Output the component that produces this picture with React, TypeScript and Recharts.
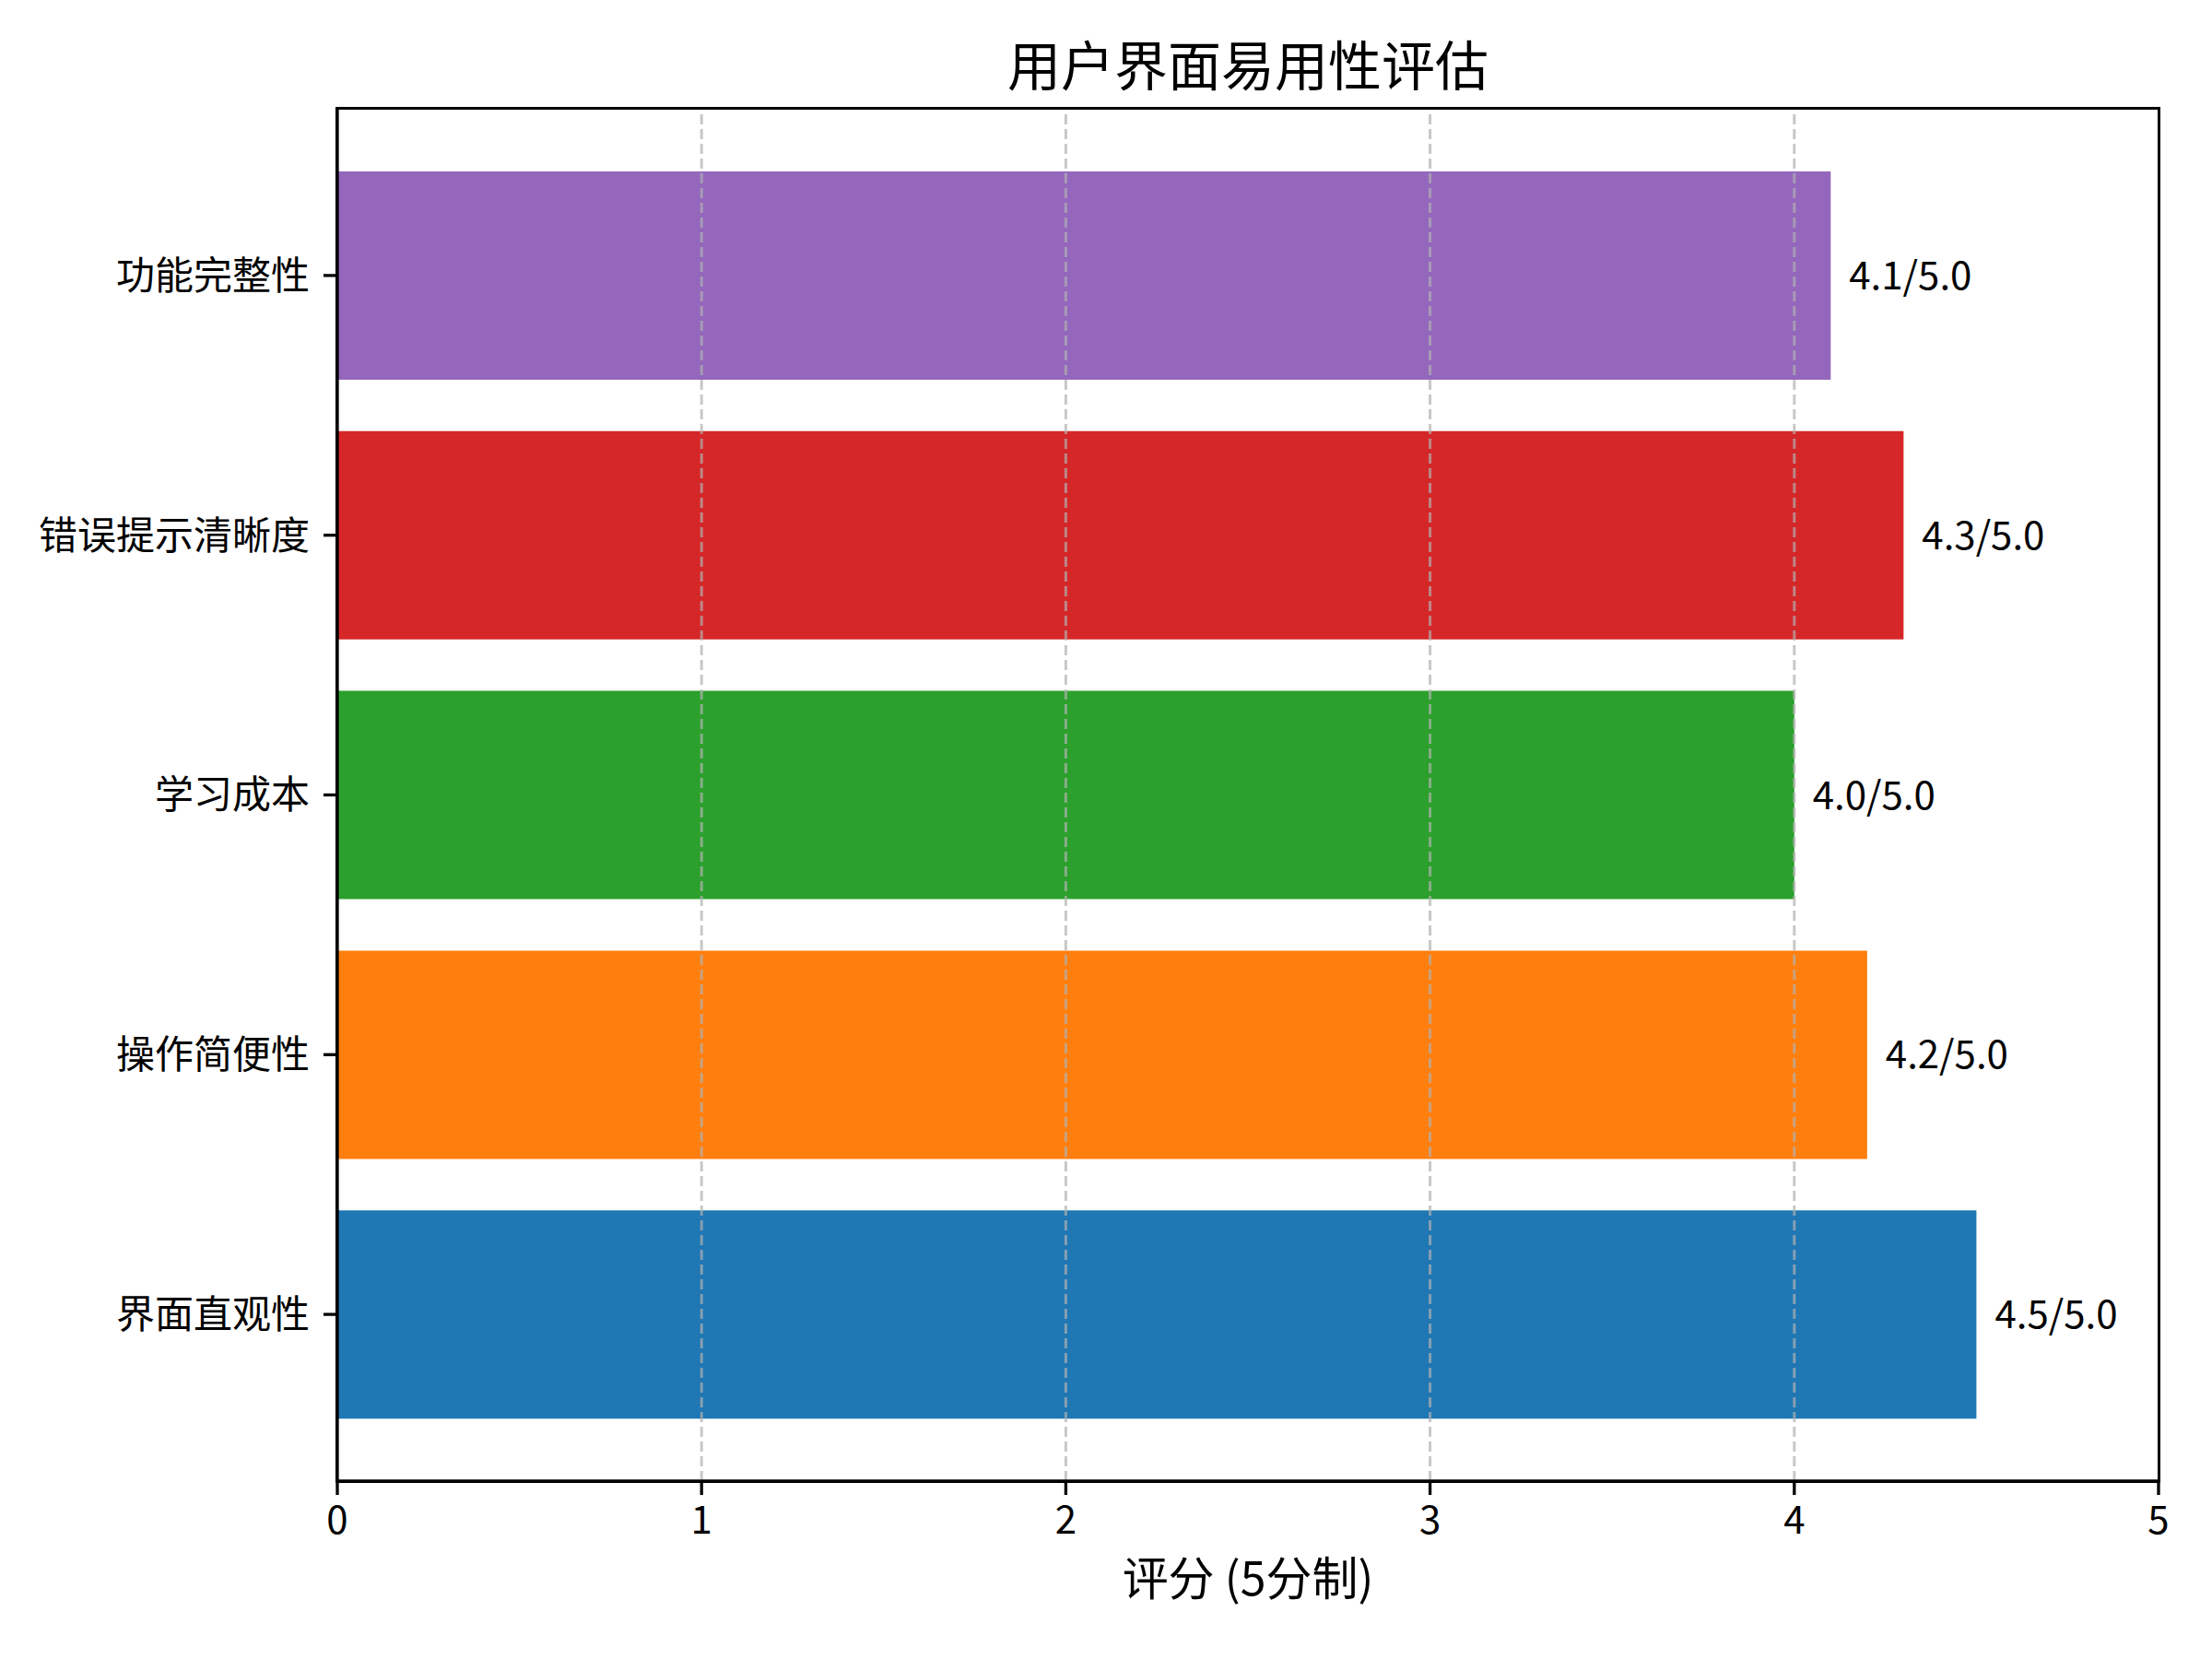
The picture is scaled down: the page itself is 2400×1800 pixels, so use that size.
import React from "react";
import {
  BarChart,
  Bar,
  XAxis,
  YAxis,
  Cell,
  LabelList,
  ReferenceLine,
} from "recharts";

// bottom-to-top order, as in the source chart
const categories = ["界面直观性", "操作简便性", "学习成本", "错误提示清晰度", "功能完整性"];
const scores = [4.5, 4.2, 4.0, 4.3, 4.1];
const barColors = ["#1f77b4", "#ff7f0e", "#2ca02c", "#d62728", "#9467bd"];
const xTicks = [0, 1, 2, 3, 4, 5];

const FONT = '"Noto Sans CJK SC", "Microsoft YaHei", "Noto Sans", sans-serif';

const W = 2400;
const H = 1800;
const PLOT_LEFT = 366;
const PLOT_RIGHT = 2342;
const PLOT_TOP = 118;
const PLOT_BOTTOM = 1607;
const Y_AXIS_W = 200;
const X_AXIS_H = 60;
const SPINE = 3.3;

const data = categories.map((name, i) => ({ name, value: scores[i] }));

export default function App() {
  const axisStroke = { stroke: "#000", strokeWidth: SPINE };
  return (
    <div style={{ position: "absolute", left: 0, top: 0, width: W, height: H, background: "#fff", fontFamily: FONT }}>
      <div
        style={{
          position: "absolute",
          left: PLOT_LEFT,
          width: PLOT_RIGHT - PLOT_LEFT,
          top: 68 - 40,
          height: 80,
          lineHeight: "80px",
          textAlign: "center",
          fontSize: 58,
          color: "#000",
        }}
      >
        用户界面易用性评估
      </div>
      <BarChart
        width={W}
        height={H}
        data={data}
        layout="vertical"
        margin={{
          top: PLOT_TOP,
          right: W - PLOT_RIGHT,
          left: PLOT_LEFT - Y_AXIS_W,
          bottom: H - PLOT_BOTTOM - X_AXIS_H,
        }}
        style={{ fontFamily: FONT }}
      >
        <XAxis
          type="number"
          domain={[0, 5]}
          ticks={xTicks}
          allowDataOverflow
          height={X_AXIS_H}
          tickSize={15}
          tickMargin={12}
          axisLine={axisStroke}
          tickLine={axisStroke}
          tick={{ fill: "#000", fontSize: 42, fontFamily: FONT }}
          label={{ value: "评分 (5分制)", position: "bottom", offset: 28, fill: "#000", fontSize: 50, fontFamily: FONT }}
        />
        <YAxis
          type="category"
          dataKey="name"
          reversed
          width={Y_AXIS_W}
          padding={{ top: 40, bottom: 40 }}
          tickSize={15}
          tickMargin={15}
          axisLine={axisStroke}
          tickLine={axisStroke}
          tick={{ fill: "#000", fontSize: 42, fontFamily: FONT }}
        />
        <Bar dataKey="value" barSize={226} isAnimationActive={false}>
          {data.map((d, i) => (
            <Cell key={d.name} fill={barColors[i]} />
          ))}
          <LabelList
            dataKey="value"
            position="right"
            offset={20}
            fill="#000"
            fontSize={42}
            fontFamily={FONT}
            formatter={(v: unknown) => `${Number(v).toFixed(1)}/5.0`}
          />
        </Bar>
        {xTicks
          .filter((t) => t > 0 && t < 5)
          .map((t) => (
            <ReferenceLine key={t} x={t} stroke="#b0b0b0" strokeOpacity={0.7} strokeWidth={3} strokeDasharray="11 5" />
          ))}
      </BarChart>
      {/* axes frame (top/right spines) */}
      <div
        style={{
          position: "absolute",
          left: PLOT_LEFT - SPINE / 2,
          top: PLOT_TOP - SPINE / 2,
          width: PLOT_RIGHT - PLOT_LEFT + SPINE,
          height: PLOT_BOTTOM - PLOT_TOP + SPINE,
          border: `${SPINE}px solid #000`,
          boxSizing: "border-box",
          pointerEvents: "none",
        }}
      />
    </div>
  );
}
